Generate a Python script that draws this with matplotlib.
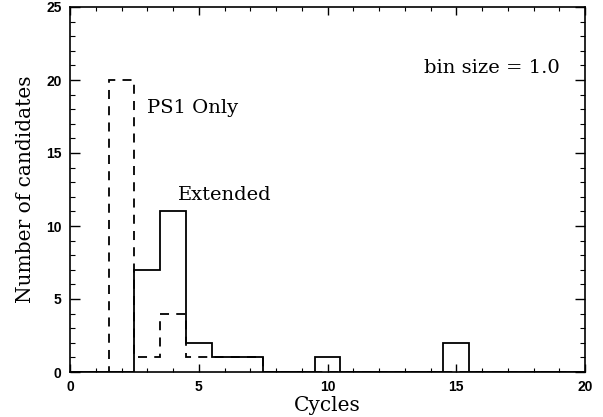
import numpy as np
import matplotlib
matplotlib.use("Agg")
import matplotlib.pyplot as plt
from matplotlib.ticker import MultipleLocator

cycles = list(range(0, 21))
extended = [0, 0, 0, 7, 11, 2, 1, 1, 0, 0, 1, 0, 0, 0, 0, 2, 0, 0, 0, 0, 0]
ps1_only = [0, 0, 20, 1, 4, 1, 1, 1, 0, 0, 0, 0, 0, 0, 0, 0, 0, 0, 0, 0, 0]

fig = plt.figure(figsize=(6.03, 4.17), dpi=100)
ax = fig.add_axes([70/603, 45/417, 515/603, 365/417])

edges = np.arange(len(cycles) + 1) - 0.5
ax.stairs(extended, edges, color="black", lw=1.3, baseline=None)
ax.stairs(ps1_only, edges, color="black", lw=1.3, ls=(0, (5, 4)), baseline=None)

ax.set_xlim(0, 20)
ax.set_ylim(0, 25)
ax.xaxis.set_major_locator(MultipleLocator(5))
ax.xaxis.set_minor_locator(MultipleLocator(1))
ax.yaxis.set_major_locator(MultipleLocator(5))
ax.yaxis.set_minor_locator(MultipleLocator(1))
ax.tick_params(which="both", direction="in", top=True, right=True)
ax.tick_params(axis="x", which="major", length=5.5, width=1, pad=6)
ax.tick_params(axis="x", which="minor", length=2.8, width=0.8)
ax.tick_params(axis="y", which="major", length=7.5, width=1, pad=6)
ax.tick_params(axis="y", which="minor", length=3.5, width=0.8)
for lab in ax.get_xticklabels() + ax.get_yticklabels():
    lab.set_fontweight("bold")
    lab.set_fontsize(10)
    lab.set_family("Liberation Sans")
for s in ax.spines.values():
    s.set_linewidth(1.2)

ax.set_xlabel("Cycles", family="DejaVu Serif", fontsize=14.5, labelpad=1)
ax.set_ylabel("Number of candidates", family="DejaVu Serif", fontsize=14.5, labelpad=8)

ax.text(16.4, 20.8, "bin size = 1.0", family="DejaVu Serif", fontsize=14, ha="center", va="center")
ax.text(3.0, 18.1, "PS1 Only", family="DejaVu Serif", fontsize=14, ha="left", va="center")
ax.text(4.2, 12.1, "Extended", family="DejaVu Serif", fontsize=14, ha="left", va="center")

fig.savefig("out.png", dpi=100)
